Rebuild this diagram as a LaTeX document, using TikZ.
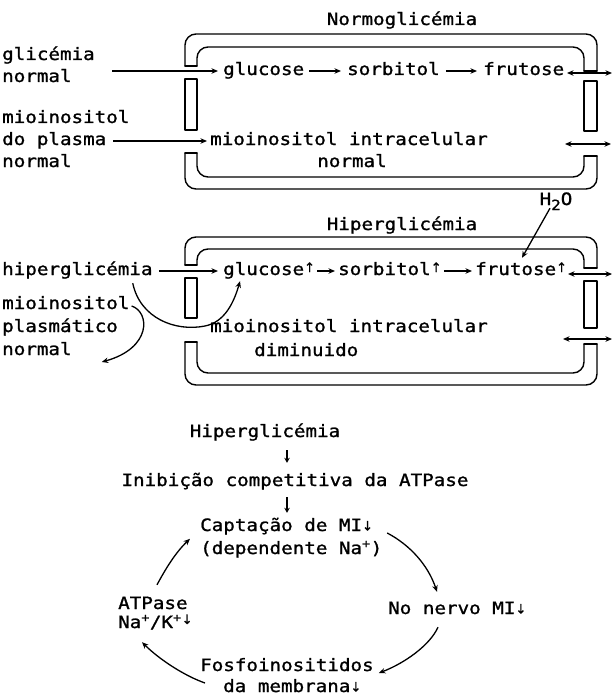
\documentclass[tikz,border=0pt]{standalone}
\usepackage{fontspec}
\newfontfamily\tw[FakeStretch=1.13,FakeBold=1.2]{DejaVu Sans Mono}
\newfontfamily\arrf[FakeBold=1]{DejaVu Sans}
\usetikzlibrary{arrows.meta,calc}
\newcommand\smup{\raisebox{3pt}{\arrf\fontsize{13}{13}\selectfont ↑}}
\newcommand\smdn{\raisebox{0.5pt}{\arrf\fontsize{13}{13}\selectfont ↓}}
\newcommand\hidn{\raisebox{4pt}{\arrf\fontsize{13}{13}\selectfont ↓}}
\tikzset{
  txt/.style={inner sep=0pt, font={\fontsize{17}{20}\tw}, text height=12pt, text depth=4pt},
  lt/.style={txt, anchor=west},
  wall/.style={line width=1.4pt, line cap=round, line join=round},
  tipS/.tip={Stealth[length=6.5pt,width=5.5pt]},
  con/.style={line width=1.3pt, -tipS},
  vcon/.style={line width=1.3pt, -{Stealth[length=5pt,width=5.5pt]}},
  dbl/.style={line width=1.3pt, tipS-tipS},
}
\begin{document}
\begin{tikzpicture}[x=1pt,y=-1pt]
\useasboundingbox (0,0) rectangle (613,698);

% ---------- cell 1 membrane ----------
\draw[wall, rounded corners=11pt] (185,66) -- (185,34) -- (597,34) -- (597,71);
\draw[wall, rounded corners=11pt] (197,66) -- (197,47) -- (584,47) -- (584,71);
\draw[wall] (185,66) -- (197,66);
\draw[wall] (584,71) -- (597,71);
\draw[wall] (185,79) rectangle (197,130);
\draw[wall] (584,81) rectangle (597,131);
\draw[wall, rounded corners=11pt] (185,153) -- (185,189) -- (597,189) -- (597,156);
\draw[wall, rounded corners=11pt] (197,153) -- (197,177) -- (584,177) -- (584,156);
\draw[wall] (185,153) -- (197,153);
\draw[wall] (584,156) -- (597,156);

% ---------- cell 1 text ----------
\node[txt] (t1) at (402,21) {Normoglicémia};
\node[lt] (gl1) at (2,56) {glicémia};
\node[lt] (gl2) at (2,78) {normal};
\node[lt] (glu1) at (223,71) {glucose};
\node[lt] (sor1) at (347,71) {sorbitol};
\node[lt] (fru1) at (483,71) {frutose};
\node[lt] (mp1) at (2,119) {mioinositol};
\node[lt] (mp2) at (2,141) {do plasma};
\node[lt] (mp3) at (2,163) {normal};
\node[lt] (mi1) at (210,141) {mioinositol intracelular};
\node[txt] (mi1b) at (352,163) {normal};
\coordinate (s1) at (112,71);
\coordinate (s2) at (113,141);
\coordinate (d1a) at (567,73);
\coordinate (d1b) at (612,73);
\coordinate (d2a) at (565,144);
\coordinate (d2b) at (611,144);
\draw[con] (s1) -- ([xshift=-5pt]glu1.west);
\draw[con] ([xshift=5pt]glu1.east) -- ([xshift=-6pt]sor1.west);
\draw[con] ([xshift=6pt]sor1.east) -- ([xshift=-6pt]fru1.west);
\draw[con] (s2) -- ([xshift=-3pt]mi1.west);
\draw[dbl] (d1a) -- (d1b);
\draw[dbl] (d2a) -- (d2b);

% ---------- cell 2 membrane ----------
\draw[wall, rounded corners=11pt] (185,265) -- (185,237) -- (597,237) -- (597,268);
\draw[wall, rounded corners=11pt] (197,265) -- (197,249) -- (584,249) -- (584,268);
\draw[wall] (185,265) -- (197,265);
\draw[wall] (584,268) -- (597,268);
\draw[wall] (185,278) rectangle (197,318);
\draw[wall] (584,281) rectangle (597,328);
\draw[wall, rounded corners=11pt] (185,342) -- (185,385) -- (597,385) -- (597,344);
\draw[wall, rounded corners=11pt] (197,342) -- (197,373) -- (584,373) -- (584,344);
\draw[wall] (185,342) -- (197,342);
\draw[wall] (584,344) -- (597,344);

% ---------- cell 2 text ----------
\node[txt] (h2o) at (556,201) {H\raisebox{-5pt}{\fontsize{14}{14}\tw 2}O};
\node[txt] (t2) at (402,226) {Hiperglicémia};
\node[lt] (hip) at (2,271) {hiperglicémia};
\node[lt] (glu2) at (223,271) {glucose\smup};
\node[lt] (sor2) at (338,271) {sorbitol\smup};
\node[lt] (fru2) at (475,271) {frutose\smup};
\node[lt] (pl1) at (2,305) {mioinositol};
\node[lt] (pl2) at (2,328) {plasmático};
\node[lt] (pl3) at (2,351) {normal};
\node[lt] (mi2) at (210,328) {mioinositol intracelular};
\node[lt] (mi2b) at (254,352) {diminuido};
\coordinate (d3a) at (568,274);
\coordinate (d3b) at (612,274);
\coordinate (d4a) at (563,339);
\coordinate (d4b) at (612,339);
\draw[con] ([xshift=6pt]hip.east) -- ([xshift=-5pt]glu2.west);
\draw[con] ([xshift=2pt]glu2.east) -- ([xshift=-3pt]sor2.west);
\draw[con] ([xshift=2pt]sor2.east) -- ([xshift=-3pt]fru2.west);
\draw[dbl] (d3a) -- (d3b);
\draw[dbl] (d4a) -- (d4b);
\draw[con] ($(h2o.south)+(-6,-1)$) -- ($(fru2.north west)+(47,-5)$);
\draw[con] ($(hip.south east)+(-20,4)$) .. controls (140,318) and (175,332) .. (205,326)
   .. controls (225,322) and (234,302) .. ($(glu2.south west)+(17,2)$);
\draw[con] ($(pl1.east)+(2,1)$) .. controls (150,312) and (152,348) .. ($(pl3.east)+(30,11)$);

% ---------- lower scheme ----------
\node[txt] (h3) at (265,433) {Hiperglicémia};
\node[txt] (inib) at (295,482) {Inibição competitiva da ATPase};
\node[lt] (cap1) at (200,527) {Captação de MI\smdn};
\node[lt] (cap2) at (200,550) {(dependente Na\textsuperscript{+})};
\node[lt] (nerv) at (388,610) {No nervo MI\smdn};
\node[lt] (atp1) at (118,605) {ATPase};
\node[lt] (atp2) at (118,624) {Na\textsuperscript{+}/K\textsuperscript{+}\hidn};
\node[lt] (fos1) at (200,667) {Fosfoinositidos};
\node[lt] (fos2) at (223,688) {da membrana\smdn};
\draw[vcon] ($(h3.south)+(22,9)$) -- ($(inib.north)+(-8,-11)$);
\draw[vcon] ($(inib.south)+(-8,7)$) -- ($(cap1.north west)+(87,-6)$);
\draw[con] ($(cap1.east)+(14,6)$) .. controls (410,545) and (428,565) .. ($(nerv.north west)+(49,-10)$);
\draw[con] ($(nerv.south west)+(50,9)$) .. controls (430,645) and (405,663) .. ($(fos1.east)+(5,6)$);
\draw[con] ($(fos2.west)+(-18,-5)$) .. controls (185,676) and (160,660) .. ($(atp2.south west)+(24,10)$);
\draw[con] ($(atp1.north west)+(39,-12)$) .. controls (165,570) and (175,553) .. ($(cap2.north west)+(-10,-3)$);
\end{tikzpicture}
\end{document}
